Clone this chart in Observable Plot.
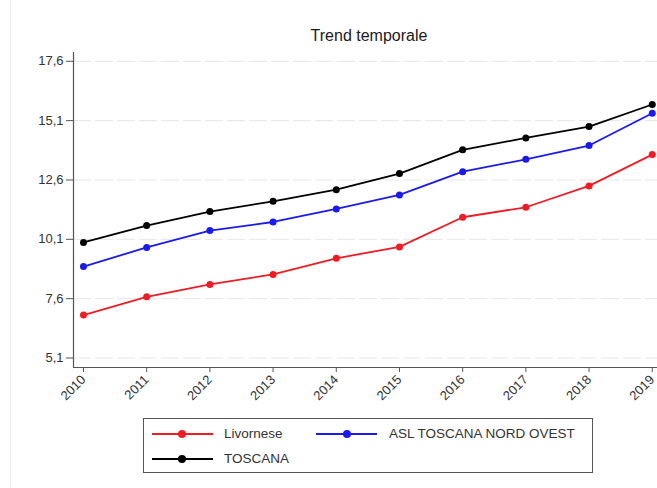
<!DOCTYPE html>
<html>
<head>
<meta charset="utf-8">
<script src="https://cdn.jsdelivr.net/npm/d3@7"></script>
<script src="https://cdn.jsdelivr.net/npm/@observablehq/plot@0.6"></script>
<style>
  html, body { margin: 0; padding: 0; background: #fff; }
  #wrap { position: relative; width: 657px; height: 488px; font-family: "Liberation Sans", Arial, sans-serif; color: #222; overflow: hidden; }
  #leftline { position: absolute; left: 10px; top: 0; width: 1px; height: 488px; background: #ececec; }
  #title { position: absolute; left: 219px; width: 300px; top: 27px; text-align: center; font-size: 16px; line-height: 18px; color: #1a1a1a; }
  #chart { position: absolute; left: 0; top: 48px; }
  #legend { position: absolute; left: 143px; top: 418px; width: 448px; height: 53px; border: 1px solid #555; box-sizing: content-box; }
  .item { position: absolute; height: 16px; font-size: 13.5px; line-height: 16px; color: #333; }
  .sw { position: absolute; top: 7px; height: 2px; }
  .dt { position: absolute; top: 4px; width: 8px; height: 8px; border-radius: 50%; }
</style>
</head>
<body>
<div id="wrap">
  <div id="leftline"></div>
  <div id="title">Trend temporale</div>
  <div id="chart"></div>
  <div id="legend"></div>
</div>
<script>
const years = [2010, 2011, 2012, 2013, 2014, 2015, 2016, 2017, 2018, 2019];
const livornese = [6.91, 7.68, 8.20, 8.62, 9.30, 9.78, 11.03, 11.45, 12.35, 13.67];
const aslNordOvest = [8.95, 9.76, 10.47, 10.83, 11.38, 11.97, 12.95, 13.47, 14.05, 15.41];
const toscana = [9.97, 10.68, 11.27, 11.70, 12.19, 12.87, 13.87, 14.37, 14.85, 15.78];
const yTicks = [5.1, 7.6, 10.1, 12.6, 15.1, 17.6];
const seriesNames = ["Livornese", "ASL TOSCANA NORD OVEST", "TOSCANA"];
const seriesColors = ["#ee1c24", "#1a1aee", "#000000"];

const xDomain = [2009.842, 2019.083];
const yDomain = [4.70, 17.97];

const seriesValues = [livornese, aslNordOvest, toscana];
const data = [];
seriesNames.forEach((name, i) => {
  years.forEach((yr, j) => data.push({series: name, year: yr, value: seriesValues[i][j]}));
});

const fmt = d => d.toFixed(1).replace(".", ",");

const chart = Plot.plot({
  width: 657,
  height: 360,
  marginTop: 4,
  marginLeft: 73,
  marginRight: 0,
  marginBottom: 41,
  style: {fontFamily: "'Liberation Sans', Arial, sans-serif", fontSize: "13px", color: "#333", background: "transparent"},
  x: {domain: xDomain, label: null},
  y: {domain: yDomain, label: null},
  color: {domain: seriesNames, range: seriesColors},
  marks: [
    Plot.gridY(yTicks, {stroke: "#e6e6e6", strokeOpacity: 1, strokeDasharray: "18,4"}),
    Plot.axisY(yTicks, {tickFormat: fmt, tickSize: 7, tickPadding: 3, stroke: "#555", label: null}),
    Plot.axisX(years, {tickFormat: d => String(d), tickRotate: -45, tickSize: 5, tickPadding: 5, stroke: "#555", label: null}),
    Plot.ruleX([xDomain[0]], {stroke: "#555", strokeWidth: 1.2}),
    Plot.ruleY([yDomain[0]], {stroke: "#555", strokeWidth: 1.2}),
    Plot.lineY(data, {x: "year", y: "value", z: "series", stroke: "series", strokeWidth: 1.8}),
    Plot.dot(data, {x: "year", y: "value", fill: "series", r: 3.5})
  ]
});
document.getElementById("chart").appendChild(chart);

// Legend
const legendPos = [
  {line: 8, dot: 38, text: 80, top: 7},
  {line: 172, dot: 203, text: 245, top: 7},
  {line: 8, dot: 38, text: 80, top: 32}
];
const legend = document.getElementById("legend");
seriesNames.forEach((name, i) => {
  const p = legendPos[i];
  const it = document.createElement("div");
  it.className = "item";
  it.style.left = "0px";
  it.style.top = p.top + "px";
  it.style.width = "440px";
  const sw = document.createElement("div");
  sw.className = "sw";
  sw.style.left = p.line + "px";
  sw.style.width = "61px";
  sw.style.background = seriesColors[i];
  const dt = document.createElement("div");
  dt.className = "dt";
  dt.style.left = (p.dot - 4) + "px";
  dt.style.background = seriesColors[i];
  const tx = document.createElement("span");
  tx.style.position = "absolute";
  tx.style.left = p.text + "px";
  tx.textContent = name;
  it.appendChild(sw); it.appendChild(dt); it.appendChild(tx);
  legend.appendChild(it);
});
</script>
</body>
</html>
